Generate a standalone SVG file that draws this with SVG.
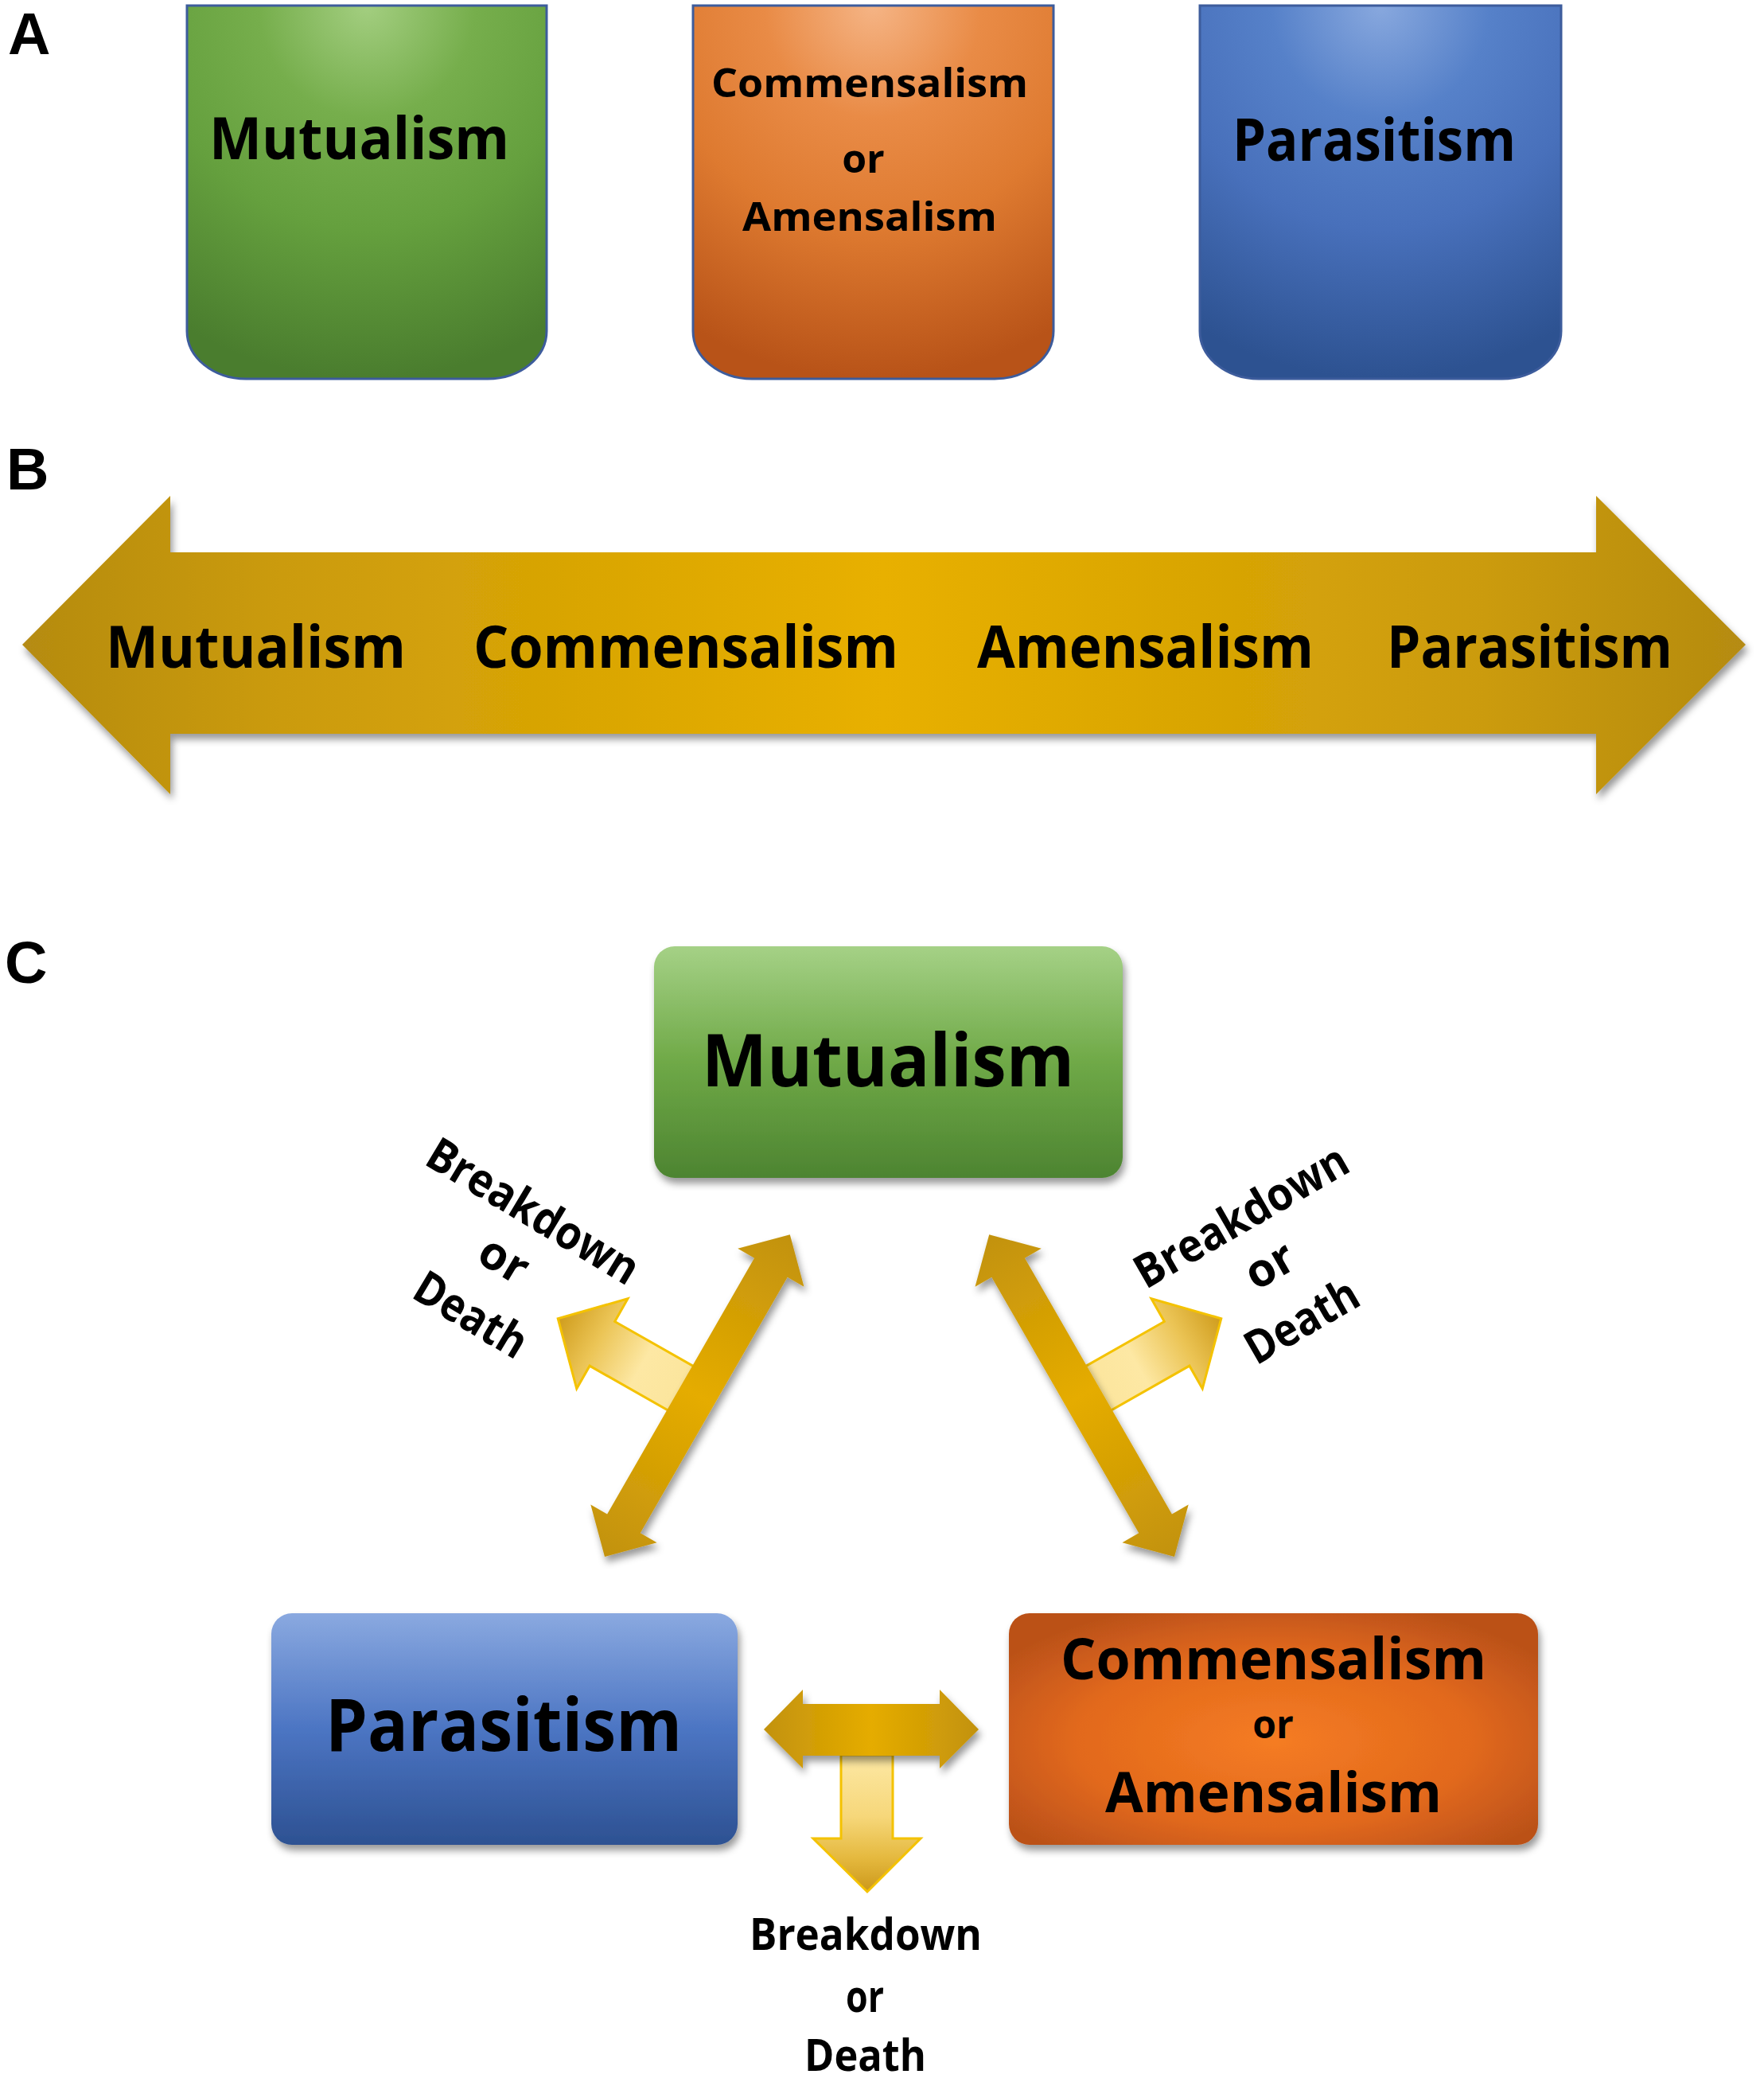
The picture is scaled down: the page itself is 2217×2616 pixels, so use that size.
<svg xmlns="http://www.w3.org/2000/svg" width="2217" height="2616" viewBox="0 0 2217 2616">
<defs>
<style>
.lbl{font-family:"Liberation Sans",Arial,sans-serif;font-weight:bold;font-size:74px;fill:#000}
.t{font-family:"Open Sans","Liberation Sans",sans-serif;font-weight:bold;fill:#000}
.tc{text-anchor:middle}
.boxA{stroke:#3d5c9c;stroke-width:3}
.side{stroke:#f4c200;stroke-width:3;stroke-linejoin:miter}
</style>
<radialGradient id="gA" cx="0.5" cy="0" r="1" fx="0.5" fy="0">
<stop offset="0" stop-color="#a3ce80"/><stop offset="0.3" stop-color="#76ae4c"/><stop offset="0.6" stop-color="#65a03e"/><stop offset="1" stop-color="#4a7d2e"/>
</radialGradient>
<radialGradient id="oA" cx="0.5" cy="0" r="1" fx="0.5" fy="0">
<stop offset="0" stop-color="#f5b485"/><stop offset="0.3" stop-color="#e98b46"/><stop offset="0.6" stop-color="#de7a30"/><stop offset="1" stop-color="#b85318"/>
</radialGradient>
<radialGradient id="bA" cx="0.5" cy="0" r="1" fx="0.5" fy="0">
<stop offset="0" stop-color="#88a8de"/><stop offset="0.3" stop-color="#5681c9"/><stop offset="0.6" stop-color="#4870bb"/><stop offset="1" stop-color="#2d5291"/>
</radialGradient>
<linearGradient id="gC" x1="0" y1="0" x2="0" y2="1">
<stop offset="0" stop-color="#a5d186"/><stop offset="0.5" stop-color="#6fa947"/><stop offset="1" stop-color="#4d8431"/>
</linearGradient>
<linearGradient id="bC" x1="0" y1="0" x2="0" y2="1">
<stop offset="0" stop-color="#8aa9e0"/><stop offset="0.5" stop-color="#4c75c3"/><stop offset="1" stop-color="#2d5192"/>
</linearGradient>
<radialGradient id="oC" cx="0.5" cy="0.55" r="0.62">
<stop offset="0" stop-color="#f57c23"/><stop offset="0.6" stop-color="#e2691c"/><stop offset="1" stop-color="#bb5119"/>
</radialGradient>
<linearGradient id="goldH" x1="0" y1="0" x2="1" y2="0">
<stop offset="0" stop-color="#b58b12"/><stop offset="0.15" stop-color="#cb9b0a"/><stop offset="0.5" stop-color="#e8b000"/><stop offset="0.85" stop-color="#cb9b0a"/><stop offset="1" stop-color="#b58b12"/>
</linearGradient>
<linearGradient id="goldD" x1="0" y1="0" x2="1" y2="0">
<stop offset="0" stop-color="#c2920c"/><stop offset="0.5" stop-color="#e5ac00"/><stop offset="1" stop-color="#c2920c"/>
</linearGradient>
<linearGradient id="lite" x1="0" y1="0" x2="1" y2="0">
<stop offset="0" stop-color="#fbe49a"/><stop offset="0.4" stop-color="#fde8a4"/><stop offset="0.72" stop-color="#ebc455"/><stop offset="1" stop-color="#cf9c1c"/>
</linearGradient>
<linearGradient id="liteV" x1="0" y1="0" x2="0" y2="1">
<stop offset="0" stop-color="#fde8a4"/><stop offset="0.45" stop-color="#f6d77a"/><stop offset="0.75" stop-color="#e5b93f"/><stop offset="1" stop-color="#cc981a"/>
</linearGradient>
<filter id="sh" x="-10%" y="-10%" width="125%" height="130%">
<feDropShadow dx="3" dy="7" stdDeviation="5" flood-color="#000" flood-opacity="0.4"/>
</filter>
</defs>
<rect width="2217" height="2616" fill="#fff"/>

<!-- Panel labels -->
<text class="lbl" x="10" y="68">A</text>
<text class="lbl" x="8" y="615">B</text>
<text class="lbl" x="6" y="1235">C</text>

<!-- Panel A -->
<g id="a-mutualism">
<path class="boxA" fill="url(#gA)" d="M235 7 H687 V416 A74 60 0 0 1 613 476 H309 A74 60 0 0 1 235 416 Z"/>
<text class="t" x="263" y="200" font-size="74" textLength="377" lengthAdjust="spacingAndGlyphs">Mutualism</text>
</g>
<g id="a-commensalism">
<path class="boxA" fill="url(#oA)" d="M871 7 H1324 V416 A74 60 0 0 1 1250 476 H945 A74 60 0 0 1 871 416 Z"/>
<text class="t" x="894" y="122" font-size="50" textLength="398" lengthAdjust="spacingAndGlyphs">Commensalism</text>
<text class="t tc" x="1085" y="217" font-size="50">or</text>
<text class="t" x="933" y="290" font-size="50" textLength="320" lengthAdjust="spacingAndGlyphs">Amensalism</text>
</g>
<g id="a-parasitism">
<path class="boxA" fill="url(#bA)" d="M1508 7 H1962 V416 A74 60 0 0 1 1888 476 H1582 A74 60 0 0 1 1508 416 Z"/>
<text class="t" x="1549" y="202" font-size="74" textLength="356" lengthAdjust="spacingAndGlyphs">Parasitism</text>
</g>

<!-- Panel B -->
<g id="b-spectrum">
<path filter="url(#sh)" fill="url(#goldH)" d="M28 810 L214 623 L214 694 L2006 694 L2006 623 L2194 810 L2006 998 L2006 922 L214 922 L214 998 Z"/>
<text class="t" x="133" y="839" font-size="74" textLength="377" lengthAdjust="spacingAndGlyphs">Mutualism</text>
<text class="t" x="595" y="839" font-size="74" textLength="534" lengthAdjust="spacingAndGlyphs">Commensalism</text>
<text class="t" x="1228" y="839" font-size="74" textLength="423" lengthAdjust="spacingAndGlyphs">Amensalism</text>
<text class="t" x="1743" y="839" font-size="74" textLength="359" lengthAdjust="spacingAndGlyphs">Parasitism</text>
</g>

<!-- Panel C nodes -->
<g id="c-mutualism">
<rect filter="url(#sh)" x="822" y="1189" width="589" height="291" rx="26" fill="url(#gC)"/>
<text class="t" x="882" y="1365" font-size="91" textLength="468" lengthAdjust="spacingAndGlyphs">Mutualism</text>
</g>
<g id="c-parasitism">
<rect filter="url(#sh)" x="341" y="2027" width="586" height="291" rx="26" fill="url(#bC)"/>
<text class="t" x="409" y="2200" font-size="91" textLength="448" lengthAdjust="spacingAndGlyphs">Parasitism</text>
</g>
<g id="c-commensalism">
<rect filter="url(#sh)" x="1268" y="2027" width="665" height="291" rx="26" fill="url(#oC)"/>
<text class="t" x="1333" y="2110" font-size="72" textLength="535" lengthAdjust="spacingAndGlyphs">Commensalism</text>
<text class="t tc" x="1600" y="2184" font-size="48">or</text>
<text class="t" x="1389" y="2277" font-size="70" textLength="423" lengthAdjust="spacingAndGlyphs">Amensalism</text>
</g>

<!-- Connectors -->
<g id="connectors">
<g id="side-left"><path class="side" fill="url(#lite)" transform="translate(876,1756) rotate(-150.4)" d="M0 -32 L137 -32 L137 -65 L201 0 L137 65 L137 32 L0 32 Z"/></g>
<g id="side-right"><path class="side" fill="url(#lite)" transform="translate(1360,1756) rotate(-29.6)" d="M0 -32 L137 -32 L137 -65 L201 0 L137 65 L137 32 L0 32 Z"/></g>
<g filter="url(#sh)"><path id="diag-left" fill="url(#goldD)" transform="translate(760,1956) rotate(-60.1)" d="M0 0 L48 -48 L48 -24 L419 -24 L419 -48 L467 0 L419 48 L419 24 L48 24 L48 48 Z"/></g>
<g filter="url(#sh)"><path id="diag-right" fill="url(#goldD)" transform="translate(1476,1956) rotate(-119.9)" d="M0 0 L48 -48 L48 -24 L419 -24 L419 -48 L467 0 L419 48 L419 24 L48 24 L48 48 Z"/></g>
<path id="down" class="side" fill="url(#liteV)" d="M1057 2205 L1122 2205 L1122 2310 L1157 2310 L1090 2377 L1022 2310 L1057 2310 Z"/>
<path id="horiz" filter="url(#sh)" fill="url(#goldD)" d="M960 2173 L1009 2123 L1009 2141 L1181 2141 L1181 2123 L1230 2173 L1181 2222 L1181 2206 L1009 2206 L1009 2222 Z"/>
</g>

<!-- Breakdown labels -->
<g id="lbl-left" transform="translate(631,1587) rotate(31)">
<text class="t tc" x="0" y="-56" font-size="58" textLength="300" lengthAdjust="spacingAndGlyphs">Breakdown</text>
<text class="t tc" x="0" y="15" font-size="58">or</text>
<text class="t tc" x="0" y="96" font-size="58" textLength="155" lengthAdjust="spacingAndGlyphs">Death</text>
</g>
<g id="lbl-right" transform="translate(1598,1594) rotate(-30)">
<text class="t tc" x="0" y="-56" font-size="58" textLength="300" lengthAdjust="spacingAndGlyphs">Breakdown</text>
<text class="t tc" x="0" y="15" font-size="58">or</text>
<text class="t tc" x="0" y="96" font-size="58" textLength="155" lengthAdjust="spacingAndGlyphs">Death</text>
</g>
<g id="lbl-bottom">
<text class="t" x="942" y="2450" font-size="56" textLength="292" lengthAdjust="spacingAndGlyphs">Breakdown</text>
<text class="t tc" x="1087" y="2528" font-size="56" textLength="48" lengthAdjust="spacingAndGlyphs">or</text>
<text class="t" x="1011" y="2602" font-size="56" textLength="153" lengthAdjust="spacingAndGlyphs">Death</text>
</g>
</svg>
